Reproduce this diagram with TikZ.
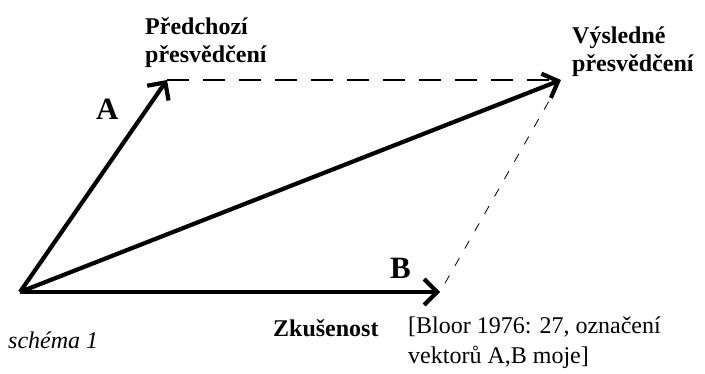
\documentclass[tikz,border=0pt]{standalone}
\usepackage{fontspec}
\setmainfont{Liberation Serif}
\usetikzlibrary{arrows.meta,positioning}

\tikzset{
	vec/.style={line width=4.2pt, -{Straight Barb[length=13pt,width=26pt,line width=4.2pt]}},
	guide/.style={line width=1.3pt, dash pattern=on 22pt off 14pt},
	thinguide/.style={line width=0.8pt, dash pattern=on 9pt off 11pt},
	head/.style={inner sep=0pt, align=left, font=\bfseries\fontsize{24}{28}\selectfont},
	letter/.style={inner sep=0pt, font=\bfseries\fontsize{31}{33}\selectfont},
	note/.style={inner sep=0pt, align=left, font=\fontsize{24}{30}\selectfont},
}

\begin{document}
\begin{tikzpicture}[x=1pt, y=-1pt]
	\useasboundingbox (0,0) rectangle (705,374);
	% vertices of the parallelogram
	\coordinate (O) at (20,292);
	\coordinate (P) at (167,80);
	\coordinate (V) at (561,80);
	\coordinate (Z) at (440,292);

	\draw[guide] (P) -- (V);
	\draw[thinguide, shorten <=10pt, shorten >=16pt] (Z) -- (V);
	\draw[vec] (O) -- (P);
	\draw[vec] (O) -- (V);
	\draw[vec] (O) -- (Z);

	% labels
	\node[head, anchor=north west] (prev) at (145,17) {Předchozí\\přesvědčení};
	\node[head, anchor=north west] (res) at (572,27) {Výsledné\\přesvědčení};
	\node[letter, anchor=base west] (la) at (96,120) {A};
	\node[letter, anchor=base west] (lb) at (390,279) {B};
	\node[head, anchor=base west] (exp) at (273,337) {Zkušenost};
	\node[note, anchor=north west] (src) at (408,317) {[Bloor 1976: 27, označení\\vektorů A,B moje]};
	\node[inner sep=0pt, anchor=base west, font=\itshape\fontsize{24}{28}\selectfont] (cap) at (8,349) {schéma 1};
\end{tikzpicture}
\end{document}
